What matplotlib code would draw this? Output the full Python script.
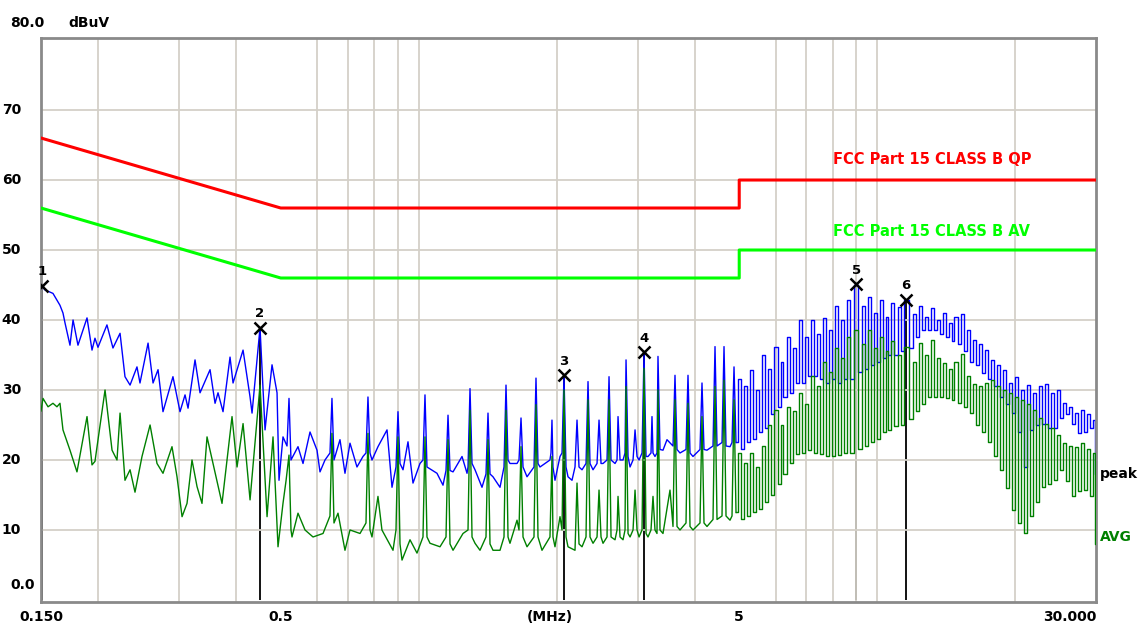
import matplotlib
matplotlib.use("Agg")
import matplotlib.pyplot as plt
from matplotlib.ticker import NullFormatter
from matplotlib.transforms import blended_transform_factory

# ---------------- data (MHz, dBuV) ----------------
peak_lf_freq = [
    0.1500, 0.1508, 0.1530, 0.1593, 0.1650, 0.1675, 0.1692, 0.1735, 0.1762, 0.1806,
    0.1890, 0.1938, 0.1967, 0.1997, 0.2089, 0.2153, 0.2231, 0.2287, 0.2346, 0.2429,
    0.2466, 0.2568, 0.2633, 0.2700, 0.2768, 0.2910, 0.3015, 0.3092, 0.3139, 0.3251,
    0.3334, 0.3506, 0.3595, 0.3649, 0.3742, 0.3876, 0.3935, 0.4138, 0.4286, 0.4329,
    0.4506, 0.4621, 0.4786, 0.4908, 0.4957,
    0.5057, 0.5160, 0.5212, 0.5264, 0.5453, 0.5592, 0.5792, 0.5999, 0.6090, 0.6245,
    0.6403, 0.6467, 0.6533, 0.6733, 0.6904, 0.7080, 0.7333, 0.7557, 0.7672, 0.7749,
    0.7828, 0.7907, 0.8148, 0.8527, 0.8743, 0.8920, 0.9010, 0.9101, 0.9240, 0.9474,
    0.9715, 1.0062, 1.0215, 1.0318, 1.0422, 1.0959, 1.1295, 1.1467, 1.1583, 1.1700,
    1.1878, 1.2427, 1.2743, 1.2807, 1.2936, 1.3067, 1.3265, 1.3738, 1.4017, 1.4159,
    1.4302, 1.4519, 1.5039, 1.5344, 1.5499, 1.5656, 1.5812, 1.6380, 1.6545, 1.6712,
    1.6881, 1.7224, 1.7838, 1.8018, 1.8200, 1.8384, 1.9329,
    1.9426, 1.9524, 1.9622, 1.9822, 2.0328, 2.0533, 2.0740, 2.0950, 2.1161, 2.1590,
    2.1918, 2.2140, 2.2363, 2.2703, 2.3164, 2.3398, 2.3634, 2.3994, 2.4481, 2.4728,
    2.4977, 2.5229, 2.5741, 2.6001, 2.6264, 2.6797, 2.7068, 2.7204, 2.7478, 2.7896,
    2.8178, 2.8320, 2.8606, 2.8895, 2.9334, 2.9630, 2.9929, 3.0232, 3.0690, 3.0999,
    3.1312, 3.1621, 3.2102, 3.2264, 3.2426, 3.2753, 3.3084, 3.3250, 3.3586, 3.4096,
    3.4788, 3.5853, 3.6215, 3.6581, 3.7136, 3.8273, 3.8659, 3.9050, 3.9642, 4.1060,
    4.1474, 4.1893, 4.2530, 4.3832, 4.4275, 4.4722, 4.5859, 4.6323, 4.6790, 4.7740,
    4.8222, 4.8709, 4.9200]
peak_lf_level = [
    43.5, 44.8, 44.3, 43.8, 42.1, 41.0, 39.6, 36.4, 40.0, 36.4,
    40.3, 35.7, 37.4, 36.1, 39.3, 36.0, 38.1, 31.9, 30.7, 33.3,
    31.0, 36.7, 31.0, 32.9, 26.9, 31.9, 26.9, 29.3, 27.4, 34.3,
    29.6, 32.9, 28.1, 29.6, 26.9, 34.7, 31.0, 35.7, 29.0, 26.7,
    38.9, 24.3, 33.6, 29.6, 17.1,
    23.3, 22.0, 28.8, 20.0, 21.9, 19.5, 24.0, 21.4, 18.3, 20.0,
    21.0, 28.8, 20.0, 22.9, 18.1, 22.4, 19.0, 20.5, 21.0, 29.0,
    21.0, 20.0, 21.9, 24.3, 16.1, 19.0, 26.9, 19.5, 18.6, 22.6,
    16.7, 19.5, 20.0, 29.3, 19.0, 18.1, 16.4, 18.5, 26.4, 18.5,
    18.3, 20.5, 18.1, 19.0, 30.2, 19.5, 18.6, 16.1, 18.0, 26.7,
    18.0, 17.6, 16.1, 19.0, 30.7, 20.0, 19.5, 19.5, 20.0, 26.0,
    19.0, 17.6, 19.0, 31.7, 19.5, 19.0, 20.0,
    21.0, 25.7, 19.0, 17.1, 20.5, 21.0, 32.1, 19.0, 17.6, 17.1,
    19.0, 25.7, 19.0, 18.6, 19.5, 31.2, 19.5, 18.6, 19.5, 25.7,
    19.5, 19.5, 20.0, 31.9, 20.0, 19.5, 20.0, 26.2, 20.0, 20.0,
    21.0, 34.3, 20.5, 19.0, 20.0, 24.3, 20.5, 20.0, 21.0, 35.4,
    20.5, 20.5, 21.0, 26.2, 21.0, 20.5, 21.0, 34.8, 21.5, 21.4,
    22.9, 22.0, 32.1, 21.5, 21.0, 21.5, 32.1, 21.0, 20.5, 21.5,
    31.0, 21.5, 21.4, 22.0, 36.2, 22.0, 22.5, 36.2, 22.0, 21.9,
    22.5, 33.3, 22.5]

avg_lf_freq = [
    0.1500, 0.1515, 0.1554, 0.1593, 0.1625, 0.1650, 0.1675, 0.1735, 0.1797, 0.1890,
    0.1938, 0.1967, 0.2069, 0.2143, 0.2197, 0.2231, 0.2287, 0.2346, 0.2405, 0.2491,
    0.2594, 0.2686, 0.2768, 0.2896, 0.2970, 0.3046, 0.3123, 0.3202, 0.3284, 0.3367,
    0.3453, 0.3559, 0.3723, 0.3915, 0.4015, 0.4138, 0.4286, 0.4506, 0.4668, 0.4810,
    0.4932,
    0.5057, 0.5134, 0.5212, 0.5264, 0.5291, 0.5453, 0.5649, 0.5880, 0.6183, 0.6403,
    0.6467, 0.6533, 0.6666, 0.6904, 0.7080, 0.7445, 0.7672, 0.7749, 0.7828, 0.7907,
    0.8148, 0.8312, 0.8787, 0.8920, 0.9010, 0.9101, 0.9194, 0.9570, 0.9912, 1.0215,
    1.0318, 1.0422, 1.0581, 1.1126, 1.1467, 1.1583, 1.1700, 1.1878, 1.2489, 1.2807,
    1.2936, 1.3067, 1.3265, 1.3601, 1.4017, 1.4159, 1.4302, 1.4519, 1.5039, 1.5344,
    1.5499, 1.5656, 1.5812, 1.6380, 1.6545, 1.6712, 1.6881, 1.7224, 1.7838, 1.8018,
    1.8200, 1.8570, 1.9329,
    1.9524, 1.9622, 1.9822, 2.0328, 2.0533, 2.0740, 2.0950, 2.1161, 2.1918, 2.2140,
    2.2363, 2.2703, 2.3164, 2.3398, 2.3634, 2.3994, 2.4481, 2.4728, 2.4977, 2.5229,
    2.5741, 2.6001, 2.6264, 2.6797, 2.7068, 2.7204, 2.7478, 2.7896, 2.8178, 2.8320,
    2.8606, 2.8895, 2.9334, 2.9630, 2.9929, 3.0232, 3.0690, 3.0999, 3.1312, 3.1621,
    3.2102, 3.2426, 3.2753, 3.3084, 3.3250, 3.3586, 3.4096, 3.5316, 3.5853, 3.6215,
    3.6581, 3.7136, 3.8273, 3.8659, 3.9050, 3.9642, 4.1060, 4.1474, 4.1893, 4.2530,
    4.3832, 4.4275, 4.4722, 4.5859, 4.6323, 4.6790, 4.7740, 4.8222, 4.8709, 4.9200]
avg_lf_level = [
    27.0, 28.8, 27.6, 28.1, 27.6, 28.1, 24.3, 21.4, 18.3, 26.2,
    19.3, 19.8, 30.0, 21.4, 20.0, 26.7, 17.1, 18.6, 15.4, 20.5,
    25.0, 19.5, 18.1, 21.9, 17.6, 11.9, 13.8, 20.0, 16.2, 13.8,
    23.3, 19.5, 13.8, 26.2, 19.0, 25.2, 14.3, 30.7, 11.9, 23.3,
    7.6,
    13.8, 17.0, 20.7, 10.0, 9.0, 12.4, 10.0, 9.0, 9.5, 12.0,
    23.8, 11.0, 12.4, 7.1, 10.0, 9.5, 11.0, 23.8, 10.0, 9.0,
    14.8, 10.0, 7.1, 10.0, 23.3, 8.0, 5.7, 8.6, 6.7, 9.0,
    23.3, 9.0, 8.1, 7.6, 9.0, 22.9, 8.0, 7.1, 9.5, 10.0,
    27.1, 9.0, 8.1, 7.1, 9.0, 22.9, 8.0, 7.1, 7.1, 9.0,
    27.1, 9.0, 8.1, 11.4, 10.0, 21.9, 9.0, 7.6, 9.0, 27.9,
    9.0, 7.1, 9.0,
    20.5, 9.0, 7.6, 11.9, 10.0, 30.0, 9.0, 7.6, 7.1, 16.7,
    8.0, 7.6, 9.0, 28.6, 9.0, 8.1, 9.0, 15.7, 9.0, 8.1,
    9.0, 28.6, 9.0, 8.6, 10.0, 14.8, 9.0, 8.6, 10.0, 30.5,
    9.5, 9.0, 10.0, 15.7, 10.0, 9.0, 10.0, 33.1, 9.5, 9.0,
    10.0, 14.8, 10.0, 9.5, 30.0, 10.0, 9.5, 15.7, 10.5, 28.6,
    10.5, 10.0, 11.0, 28.1, 10.5, 10.0, 11.0, 26.2, 11.0, 10.5,
    11.5, 30.5, 11.5, 12.0, 31.4, 12.0, 11.4, 12.0, 28.6, 12.5]

hf_freq = [
    5.019, 5.095, 5.172, 5.251, 5.330, 5.411, 5.494, 5.577, 5.662, 5.748,
    5.835, 5.924, 6.014, 6.106, 6.198, 6.292, 6.388, 6.485, 6.584, 6.684,
    6.785, 6.889, 6.993, 7.099, 7.207, 7.317, 7.428, 7.541, 7.656, 7.772,
    7.890, 8.010, 8.132, 8.255, 8.381, 8.508, 8.637, 8.769,
    8.991, 9.173, 9.313, 9.454, 9.598, 9.744, 9.888, 10.04, 10.19, 10.35,
    10.50, 10.66, 10.82, 10.99, 11.16, 11.32,
    11.55, 11.85,
    12.03, 12.21, 12.40, 12.58, 12.78, 12.97, 13.17, 13.37, 13.57, 13.78,
    13.98, 14.20, 14.41, 14.63, 14.85, 15.08, 15.31, 15.54, 15.78, 16.02,
    16.26, 16.51, 16.76, 17.01, 17.27, 17.53, 17.80, 18.07, 18.34, 18.62,
    18.90, 19.19, 19.48, 19.78, 20.08, 20.38, 20.69, 21.01, 21.33, 21.65,
    21.98, 22.31, 22.65, 23.00, 23.34, 23.70, 24.06, 24.42, 24.80, 25.17,
    25.55, 25.94, 26.34, 26.74, 27.14, 27.55, 27.97, 28.40, 28.83, 29.26,
    29.71,
    30.00]
hf_peak = [
    31.5, 21.5, 30.5, 22.5, 32.9, 23.0, 30.0, 24.0, 35.0, 24.5,
    33.0, 26.5, 36.2, 27.5, 34.0, 29.0, 37.5, 29.5, 36.0, 31.0,
    40.0, 31.0, 37.5, 32.0, 40.0, 32.0, 38.0, 31.5, 40.3, 31.0,
    38.5, 31.5, 42.0, 31.0, 40.0, 31.5, 42.9, 31.5,
    45.0, 32.5, 42.0, 33.0, 43.3, 33.5, 41.0, 34.0, 42.9, 34.5,
    40.5, 35.0, 42.4, 35.0, 41.9, 35.5,
    42.9, 36.0,
    40.9, 37.5, 42.0, 38.5, 40.5, 38.5, 41.7, 38.5, 40.0, 38.0,
    41.0, 37.5, 39.5, 37.0, 40.5, 36.5, 40.9, 35.5, 38.5, 34.0,
    37.1, 33.5, 36.5, 32.4, 35.7, 31.5, 34.3, 30.5, 33.5, 29.0,
    32.9, 28.0, 31.0, 26.7, 31.9, 24.0, 30.0, 19.0, 30.7, 24.3,
    29.5, 25.0, 30.5, 25.2, 30.9, 24.5, 29.5, 24.5, 30.0, 26.0,
    28.1, 26.5, 27.5, 25.2, 26.7, 23.8, 27.1, 24.0, 26.5, 24.5,
    25.7,
    18.0]
hf_avg = [
    21.0, 11.5, 19.5, 12.0, 21.0, 12.5, 19.0, 13.0, 22.0, 14.0,
    25.0, 15.0, 27.1, 16.5, 25.0, 18.0, 27.5, 19.5, 27.0, 20.9,
    29.5, 21.0, 28.0, 21.4, 32.0, 21.0, 30.5, 20.8, 34.0, 20.5,
    32.5, 20.5, 36.0, 20.7, 34.5, 21.0, 37.5, 21.0,
    38.6, 21.5, 36.5, 22.0, 38.6, 22.5, 36.0, 23.0, 37.6, 24.0,
    35.5, 24.3, 37.0, 24.8, 35.0, 25.0,
    36.2, 25.8,
    34.0, 27.0, 36.7, 28.0, 35.0, 29.0, 37.1, 29.0, 34.5, 29.0,
    33.8, 28.8, 33.0, 28.6, 34.0, 28.1, 35.2, 27.5, 32.0, 26.7,
    30.9, 25.0, 30.5, 24.0, 31.0, 22.5, 31.4, 20.5, 30.5, 18.5,
    30.0, 16.0, 29.5, 12.9, 29.0, 11.0, 28.6, 9.5, 28.0, 12.0,
    27.1, 14.0, 26.0, 16.2, 25.2, 16.5, 24.5, 17.1, 23.5, 18.5,
    22.4, 17.0, 22.0, 14.8, 21.9, 15.5, 22.4, 15.7, 21.5, 14.8,
    21.0,
    8.0]

# FCC Part 15 Class B limits
limit_freq = [0.15, 0.5, 0.5, 5.0, 5.0, 30.0]
qp_limit = [66, 56, 56, 56, 60, 60]
av_limit = [56, 46, 46, 46, 50, 50]

# markers
marker_id = ["1", "2", "3", "4", "5", "6"]
marker_freq = [0.1508, 0.4506, 2.074, 3.100, 8.991, 11.554]
marker_level = [44.9, 38.9, 32.1, 35.4, 45.1, 42.9]

grid_freq = [0.2, 0.3, 0.4, 0.5, 0.6, 0.7, 0.8, 0.9, 1, 2, 3, 4, 5, 6, 7, 8, 9, 10, 20]
grid_level = [10, 20, 30, 40, 50, 60, 70]
xtick_pos = [0.15, 0.5, 1.93, 5, 30]
xtick_text = ["0.150", "0.5", "(MHz)", "5", "30.000"]

# ---------------- figure ----------------
W, H = 1140, 625
fig = plt.figure(figsize=(W / 100, H / 100), dpi=100)
fig.patch.set_facecolor("white")
ax = fig.add_axes([41 / W, 23 / H, 1055 / W, 564 / H])
ax.set_xscale("log")
ax.set_xlim(0.15, 30)
ax.set_ylim(-0.29, 80.29)

FONT = dict(family="DejaVu Sans", weight="bold")

# grid
ax.set_xticks(grid_freq, minor=True)
ax.set_yticks(grid_level, minor=True)
ax.xaxis.set_minor_formatter(NullFormatter())
ax.yaxis.set_minor_formatter(NullFormatter())
ax.grid(which="minor", color="#d4d0c8", lw=1.3, zorder=0)
ax.grid(which="major", visible=False)
ax.tick_params(which="both", length=0)
ax.set_xticks(xtick_pos)
ax.set_xticklabels(xtick_text, fontsize=10, **FONT)
ax.tick_params(axis="x", pad=6)
xl = ax.get_xticklabels()
xl[-1].set_ha("right")
ax.set_yticks([])
for s in ax.spines.values():
    s.set_color("#8a8a8a")
    s.set_linewidth(2.0)

# y labels
ty = blended_transform_factory(fig.transFigure, ax.transData)
for v in grid_level:
    ax.text(21 / W, v, str(v), transform=ty, ha="right", va="center", fontsize=10, **FONT)
ax.text(10 / W, 2.1, "0.0", transform=ty, ha="left", va="center", fontsize=10, **FONT)
fig.text(10 / W, 1 - 23 / H, "80.0", ha="left", va="center", fontsize=10, **FONT)
fig.text(68 / W, 1 - 23 / H, "dBuV", ha="left", va="center", fontsize=10, **FONT)

# limit lines
ax.plot(limit_freq, qp_limit, color="#ff0000", lw=2.2, zorder=4)
ax.plot(limit_freq, av_limit, color="#00ff00", lw=2.2, zorder=4)
ax.text(8.01, 62.9, "FCC Part 15 CLASS B QP", color="#ff0000", fontsize=10.5,
        ha="left", va="center", **FONT)
ax.text(8.01, 52.7, "FCC Part 15 CLASS B AV", color="#00ff00", fontsize=10.5,
        ha="left", va="center", **FONT)

# marker drop lines (under the traces)
ax.vlines(marker_freq, 0, marker_level, colors="#000000", lw=1.3, zorder=1.5)

# traces: sparse low-frequency part joined linearly, dense harmonic part as steps
ax.plot(peak_lf_freq, peak_lf_level, color="#0000ff", lw=1.0, zorder=2)
ax.plot(peak_lf_freq[-1:] + hf_freq, peak_lf_level[-1:] + hf_peak,
        color="#0000ff", lw=1.0, zorder=2, drawstyle="steps-mid")
ax.plot(avg_lf_freq, avg_lf_level, color="#008000", lw=1.0, zorder=3)
ax.plot(avg_lf_freq[-1:] + hf_freq, avg_lf_level[-1:] + hf_avg,
        color="#008000", lw=1.0, zorder=3, drawstyle="steps-mid")

# markers
ax.plot(marker_freq, marker_level, ls="none", marker="x", ms=8, mew=1.8,
        color="black", zorder=6)
for mid, f, v in zip(marker_id, marker_freq, marker_level):
    ax.text(f, v + 2.0, mid, ha="center", va="center", fontsize=9.5, zorder=6, **FONT)

# trace end labels
tr = blended_transform_factory(ax.transAxes, ax.transData)
ax.text(1.004, 18.0, "peak", transform=tr, ha="left", va="center", fontsize=10,
        color="black", clip_on=False, **FONT)
ax.text(1.004, 9.0, "AVG", transform=tr, ha="left", va="center", fontsize=10,
        color="#008000", clip_on=False, **FONT)

fig.savefig("out.png", dpi=100, facecolor="white")
